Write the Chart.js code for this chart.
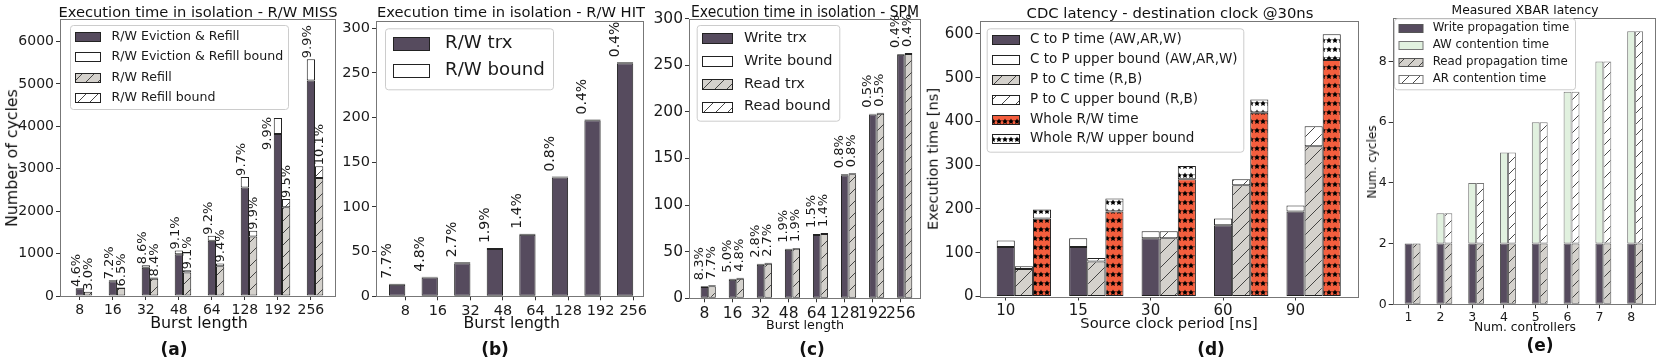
<!DOCTYPE html>
<html><head><meta charset="utf-8">
<script src="https://cdn.jsdelivr.net/npm/chart.js@4.4.1/dist/chart.umd.min.js"></script>
<style>
html,body{margin:0;padding:0;background:#fff;}
#wrap{position:relative;width:1661px;height:360px;overflow:hidden;background:#fff;font-family:'DejaVu Sans',sans-serif;}
#wrap canvas{position:absolute;left:0;top:0;}
.t{position:absolute;white-space:nowrap;color:#111;line-height:1;transform:translate(-50%,-50%);}
</style></head><body><div id="wrap"></div>
<script>
// ---------------- data ----------------
const burstLengths = ['8','16','32','48','64','128','192','256'];
// (a) R/W MISS
const missEvictRefill      = [180, 345, 665, 985, 1300, 2560, 3820, 5080];
const missEvictRefillBound = [188, 370, 722, 1075, 1420, 2808, 4198, 5583];
const missRefill           = [100, 190, 405, 555, 700, 1400, 2090, 2780];
const missRefillBound      = [103, 202, 439, 605, 766, 1539, 2288, 3061];
const missEvictPct  = ['4.6%','7.2%','8.6%','9.1%','9.2%','9.7%','9.9%','9.9%'];
const missRefillPct = ['3.0%','6.5%','8.4%','9.1%','9.4%','9.9%','9.5%','10.1%'];
// (b) R/W HIT
const hitTrx   = [13, 21, 37, 53, 69, 133, 197, 261];
const hitBound = [14, 22, 38, 54, 70, 134, 198, 262];
const hitPct   = ['7.7%','4.8%','2.7%','1.9%','1.4%','0.8%','0.4%','0.4%'];
// (c) SPM
const spmWrite      = [12, 20, 36, 52, 68, 132, 197, 261];
const spmWriteBound = [13, 21, 37, 53, 69, 133, 198, 262];
const spmRead       = [13, 21, 37, 53, 69, 133, 198, 262];
const spmReadBound  = [14, 22, 38, 54, 70, 134, 199, 263];
const spmWritePct = ['8.3%','5.0%','2.8%','1.9%','1.5%','0.8%','0.5%','0.4%'];
const spmReadPct  = ['7.7%','4.8%','2.7%','1.9%','1.4%','0.8%','0.5%','0.4%'];
// (d) CDC
const clockPeriods   = ['10','15','30','60','90'];
const cdcCtoP        = [113, 113, 133, 163, 194];
const cdcCtoPBound   = [128, 133, 149, 178, 208];
const cdcPtoC        = [63, 80, 133, 254, 343];
const cdcPtoCBound   = [69, 88, 149, 268, 389];
const cdcWhole       = [178, 194, 268, 420, 540];
const cdcWholeBound  = [199, 224, 298, 450, 599];
// (e) XBAR
const controllers   = ['1','2','3','4','5','6','7','8'];
const xbarWriteProp = [2, 2, 2, 2, 2, 2, 2, 2];
const xbarAWCont    = [0, 1, 2, 3, 4, 5, 6, 7];
const xbarReadProp  = [2, 2, 2, 2, 2, 2, 2, 2];
const xbarARCont    = [0, 1, 2, 3, 4, 5, 6, 7];

// ---------------- styles ----------------
const W = 1661, H = 360, YW = 70, XH = 40;
const FONT = "'DejaVu Sans', sans-serif";
const DARK = '#564b5e', LIGHT = '#d4d1cc', ORANGE = '#f45e3e', GREEN = '#e1f1df';
const EDGE = '#222', TXT = '#1a1a1a', TICKC = '#333', FRAME = '#777';

function hatch(bg, s, color) {
  const c = document.createElement('canvas'); c.width = s; c.height = s;
  const x = c.getContext('2d');
  x.fillStyle = bg; x.fillRect(0, 0, s, s);
  x.strokeStyle = color; x.lineWidth = 0.9;
  x.beginPath();
  x.moveTo(0, s); x.lineTo(s, 0);
  x.moveTo(-2, 2); x.lineTo(2, -2);
  x.moveTo(s - 2, s + 2); x.lineTo(s + 2, s - 2);
  x.stroke();
  return x.createPattern(c, 'repeat');
}
function stars(bg, w, h, r) {
  const c = document.createElement('canvas'); c.width = w; c.height = h;
  const x = c.getContext('2d');
  x.fillStyle = bg; x.fillRect(0, 0, w, h);
  x.fillStyle = '#000';
  const cx = w / 2, cy = h / 2;
  x.beginPath();
  for (let k = 0; k < 10; k++) {
    const rr = k % 2 ? r * 0.5 : r;
    const a = -Math.PI / 2 + k * Math.PI / 5;
    const px = cx + rr * Math.cos(a), py = cy + rr * Math.sin(a);
    k ? x.lineTo(px, py) : x.moveTo(px, py);
  }
  x.closePath(); x.fill();
  return x.createPattern(c, 'repeat');
}
const H_GRAY = hatch(LIGHT, 12, '#333');
const H_WHITE = hatch('#ffffff', 12, '#333');
const H_GRAY_D = hatch(LIGHT, 14, '#333');
const H_WHITE_D = hatch('#ffffff', 14, '#333');
const H_GRAY_E = hatch(LIGHT, 11, '#333');
const H_WHITE_E = hatch('#ffffff', 11, '#333');
const S_ORANGE = stars(ORANGE, 6, 9, 3.1);
const S_WHITE = stars('#ffffff', 6, 9, 3.1);

function ds(label, vals, base, off, stack, bg, edge, cp) {
  return {
    label, stack, backgroundColor: bg, borderColor: edge, borderWidth: 1, borderSkipped: false,
    categoryPercentage: cp, barPercentage: 1,
    data: vals.map((v, i) => ({x: i + off, y: base ? v - base[i] : v}))
  };
}

function decoPlugin(spec) {
  return {
    id: 'deco',
    afterDatasetsDraw(chart) {
      const c = chart.ctx, a = chart.chartArea;
      c.save();
      c.strokeStyle = FRAME; c.lineWidth = 1;
      const l = Math.round(a.left) + 0.5, t = Math.round(a.top) + 0.5;
      c.strokeRect(l, t, Math.round(a.right) - Math.round(a.left), Math.round(a.bottom) - Math.round(a.top));
      c.restore();
    },
    afterDraw(chart) {
      const c = chart.ctx, xs = chart.scales.x, ys = chart.scales.y;
      (spec.pct || []).forEach(g => {
        c.save();
        c.font = g.size + 'px ' + FONT; c.fillStyle = TXT;
        c.textAlign = 'left'; c.textBaseline = 'middle';
        g.texts.forEach((txt, i) => {
          const o = g.adj && g.adj[i];
          const px = xs.getPixelForValue(i + g.off + (o ? o.dx : 0));
          const py = ys.getPixelForValue(o ? o.v : g.vals[i]);
          c.save(); c.translate(px, py - g.pad); c.rotate(-Math.PI / 2); c.fillText(txt, 0, 0); c.restore();
        });
        c.restore();
      });
      const lg = spec.legend;
      c.save();
      c.fillStyle = 'rgba(255,255,255,0.85)'; c.strokeStyle = '#cccccc'; c.lineWidth = 1;
      c.beginPath(); c.roundRect(lg.x0 + 0.5, lg.y0 + 0.5, lg.x1 - lg.x0, lg.y1 - lg.y0, 3); c.fill(); c.stroke();
      c.font = lg.size + 'px ' + FONT; c.textAlign = 'left'; c.textBaseline = 'middle';
      chart.data.datasets.forEach((d, k) => {
        const cy = lg.rows[k];
        const y0 = Math.round(cy - lg.sh / 2) + 0.5;
        c.fillStyle = d.backgroundColor; c.fillRect(lg.sx0 + 0.5, y0, lg.sx1 - lg.sx0, lg.sh);
        c.strokeStyle = d.borderColor; c.strokeRect(lg.sx0 + 0.5, y0, lg.sx1 - lg.sx0, lg.sh);
        c.fillStyle = TXT; c.fillText(d.label, lg.tx, cy);
      });
      c.restore();
    }
  };
}

function makePanel(spec) {
  const cv = document.createElement('canvas');
  cv.width = W; cv.height = H; cv.style.width = W + 'px'; cv.style.height = H + 'px';
  document.getElementById('wrap').appendChild(cv);
  const tf = {family: FONT, size: spec.tickSize};
  new Chart(cv.getContext('2d'), {
    type: 'bar',
    data: {datasets: spec.datasets},
    options: {
      responsive: false, maintainAspectRatio: false, animation: false, devicePixelRatio: 1, events: [],
      layout: {autoPadding: false, padding: {left: spec.L - YW, top: spec.T, right: W - spec.R, bottom: H - spec.B - XH}},
      plugins: {legend: {display: false}, tooltip: {enabled: false}, title: {display: false}},
      scales: {
        x: {type: 'linear', min: spec.xmin, max: spec.xmax, offset: false,
            grid: {display: true, offset: false, drawOnChartArea: false, drawTicks: true, tickLength: 4, color: TICKC, tickColor: TICKC},
            border: {display: false},
            afterBuildTicks: ax => { ax.ticks = spec.cats.map((c, i) => ({value: i + spec.x0})); },
            afterFit: ax => { ax.height = XH; },
            ticks: {autoSkip: false, maxRotation: 0, minRotation: 0, padding: spec.xpad, font: tf, color: TXT,
                    callback: v => spec.cats[Math.round(v - spec.x0)]}},
        y: {type: 'linear', stacked: true, min: 0, max: spec.ymax,
            grid: {display: true, drawOnChartArea: false, drawTicks: true, tickLength: 4, color: TICKC, tickColor: TICKC},
            border: {display: false},
            afterBuildTicks: ax => { ax.ticks = spec.yticks.map(v => ({value: v})); },
            afterFit: ax => { ax.width = YW; },
            ticks: {padding: 2, font: tf, color: TXT, callback: v => String(v)}}
      }
    },
    plugins: [decoPlugin(spec)]
  });
}

// ---------------- panels ----------------
makePanel({
  L: 60, T: 19, R: 335, B: 296, xmin: -0.6, xmax: 7.73, x0: 0, ymax: 6530,
  yticks: [0, 1000, 2000, 3000, 4000, 5000, 6000], cats: burstLengths, tickSize: 14, xpad: 2,
  datasets: [
    ds('R/W Eviction & Refill', missEvictRefill, null, 0.125, 'E', DARK, EDGE, 0.5),
    ds('R/W Eviction & Refill bound', missEvictRefillBound, missEvictRefill, 0.125, 'E', '#ffffff', EDGE, 0.5),
    ds('R/W Refill', missRefill, null, 0.125, 'R', H_GRAY, EDGE, 0.5),
    ds('R/W Refill bound', missRefillBound, missRefill, 0.125, 'R', H_WHITE, EDGE, 0.5)
  ],
  pct: [
    {texts: missEvictPct, vals: missEvictRefillBound, off: -0.1, pad: 1, size: 13, adj: {6: {dx: -0.215, v: 3418}}},
    {texts: missRefillPct, vals: missRefillBound, off: 0.26, pad: 1, size: 13}
  ],
  legend: {x0: 70, y0: 25, x1: 288, y1: 109, sx0: 75, sx1: 100, sh: 9, tx: 111.5, size: 12.6, rows: [36.7, 56.7, 77.3, 97.3]}
});

makePanel({
  L: 376, T: 20.7, R: 643, B: 296.3, xmin: -0.9, xmax: 7.3, x0: 0, ymax: 308.5,
  yticks: [0, 50, 100, 150, 200, 250, 300], cats: burstLengths, tickSize: 14.5, xpad: 2,
  datasets: [
    ds('R/W trx', hitTrx, null, -0.25, 'T', DARK, EDGE, 0.5),
    ds('R/W bound', hitBound, hitTrx, -0.25, 'T', '#ffffff', EDGE, 0.5)
  ],
  pct: [{texts: hitPct, vals: hitBound, off: -0.55, pad: 5, size: 14}],
  legend: {x0: 385, y0: 28.3, x1: 553, y1: 89.3, sx0: 393, sx1: 429, sh: 13, tx: 445, size: 18.2, rows: [43.3, 70.7]}
});

makePanel({
  L: 689, T: 18.5, R: 920, B: 298.3, xmin: -0.55, xmax: 7.68, x0: 0, ymax: 300,
  yticks: [0, 50, 100, 150, 200, 250, 300], cats: burstLengths, tickSize: 15.5, xpad: 2,
  datasets: [
    ds('Write trx', spmWrite, null, 0.135, 'W', DARK, EDGE, 0.54),
    ds('Write bound', spmWriteBound, spmWrite, 0.135, 'W', '#ffffff', EDGE, 0.54),
    ds('Read trx', spmRead, null, 0.135, 'R', H_GRAY, EDGE, 0.54),
    ds('Read bound', spmReadBound, spmRead, 0.135, 'R', H_WHITE, EDGE, 0.54)
  ],
  pct: [
    {texts: spmWritePct, vals: spmWriteBound, off: -0.18, pad: 6, size: 13},
    {texts: spmReadPct, vals: spmReadBound, off: 0.24, pad: 6, size: 13}
  ],
  legend: {x0: 696.7, y0: 25, x1: 839.3, y1: 120.7, sx0: 702, sx1: 732, sh: 10, tx: 744, size: 14.5, rows: [38.3, 61, 84, 106.7]}
});

makePanel({
  L: 979.5, T: 20.7, R: 1358, B: 296.5, xmin: -0.3625, xmax: 4.8625, x0: 0, ymax: 630,
  yticks: [0, 100, 200, 300, 400, 500, 600], cats: clockPeriods, tickSize: 15, xpad: 2,
  datasets: [
    ds('C to P time (AW,AR,W)', cdcCtoP, null, 0.25, 'C', DARK, EDGE, 0.75),
    ds('C to P upper bound (AW,AR,W)', cdcCtoPBound, cdcCtoP, 0.25, 'C', '#ffffff', EDGE, 0.75),
    ds('P to C time (R,B)', cdcPtoC, null, 0.25, 'P', H_GRAY_D, EDGE, 0.75),
    ds('P to C upper bound (R,B)', cdcPtoCBound, cdcPtoC, 0.25, 'P', H_WHITE_D, EDGE, 0.75),
    ds('Whole R/W time', cdcWhole, null, 0.25, 'X', S_ORANGE, EDGE, 0.75),
    ds('Whole R/W upper bound', cdcWholeBound, cdcWhole, 0.25, 'X', S_WHITE, EDGE, 0.75)
  ],
  legend: {x0: 986.7, y0: 28.3, x1: 1243.3, y1: 151.7, sx0: 992, sx1: 1019, sh: 9, tx: 1030, size: 13.5, rows: [39.3, 59.3, 79.3, 99, 119, 138.3]}
});

makePanel({
  L: 1392.7, T: 17.5, R: 1655, B: 304.3, xmin: 0.5, xmax: 8.75, x0: 1, ymax: 9.45,
  yticks: [0, 2, 4, 6, 8], cats: controllers, tickSize: 12.5, xpad: 2,
  datasets: [
    ds('Write propagation time', xbarWriteProp, null, 1.125, 'W', DARK, '#555', 0.5),
    ds('AW contention time', xbarAWCont, null, 1.125, 'W', GREEN, '#777', 0.5),
    ds('Read propagation time', xbarReadProp, null, 1.125, 'R', H_GRAY_E, '#555', 0.5),
    ds('AR contention time', xbarARCont, null, 1.125, 'R', H_WHITE_E, '#777', 0.5)
  ],
  legend: {x0: 1394, y0: 18.3, x1: 1575, y1: 89.3, sx0: 1398.5, sx1: 1422.5, sh: 8, tx: 1432.7, size: 11.8, rows: [28.3, 45, 62.3, 79]}
});

// ---------------- texts ----------------
const TEXTS = [
  {s: 'Execution time in isolation - R/W MISS', x: 198, y: 11.7, f: 14.7},
  {s: 'Execution time in isolation - R/W HIT', x: 511, y: 11.7, f: 14.7},
  {s: 'Execution time in isolation - SPM', x: 805, y: 12.5, f: 15.5, cond: true},
  {s: 'CDC latency - destination clock @30ns', x: 1170, y: 12.7, f: 14.8},
  {s: 'Measured XBAR latency', x: 1525, y: 10, f: 12.3},
  {s: 'Number of cycles', x: 11.7, y: 157.5, f: 15.8, rot: true},
  {s: 'Burst length', x: 199, y: 323, f: 15.9},
  {s: 'Burst length', x: 511.7, y: 323.3, f: 15.7},
  {s: 'Burst length', x: 805, y: 325, f: 12.7},
  {s: 'Execution time [ns]', x: 933.3, y: 158.7, f: 14.6, rot: true},
  {s: 'Source clock period [ns]', x: 1169, y: 323.3, f: 14.7},
  {s: 'Num. cycles', x: 1371.7, y: 161.7, f: 12, rot: true},
  {s: 'Num. controllers', x: 1525, y: 326.7, f: 12.3},
  {s: '(a)', x: 174, y: 349, f: 17, b: true},
  {s: '(b)', x: 495, y: 349, f: 17, b: true},
  {s: '(c)', x: 812, y: 349, f: 17, b: true},
  {s: '(d)', x: 1211, y: 349, f: 17, b: true},
  {s: '(e)', x: 1540, y: 345, f: 17, b: true}
];
const wrap = document.getElementById('wrap');
TEXTS.forEach(t => {
  const d = document.createElement('div');
  d.className = 't'; d.textContent = t.s;
  d.style.left = t.x + 'px'; d.style.top = t.y + 'px'; d.style.fontSize = t.f + 'px';
  if (t.b) d.style.fontWeight = 'bold';
  if (t.cond) { d.style.fontFamily = "'DejaVu Sans Condensed','DejaVu Sans',sans-serif"; d.style.fontStretch = 'condensed'; }
  if (t.rot) d.style.transform = 'translate(-50%,-50%) rotate(-90deg)';
  wrap.appendChild(d);
});
</script></body></html>
